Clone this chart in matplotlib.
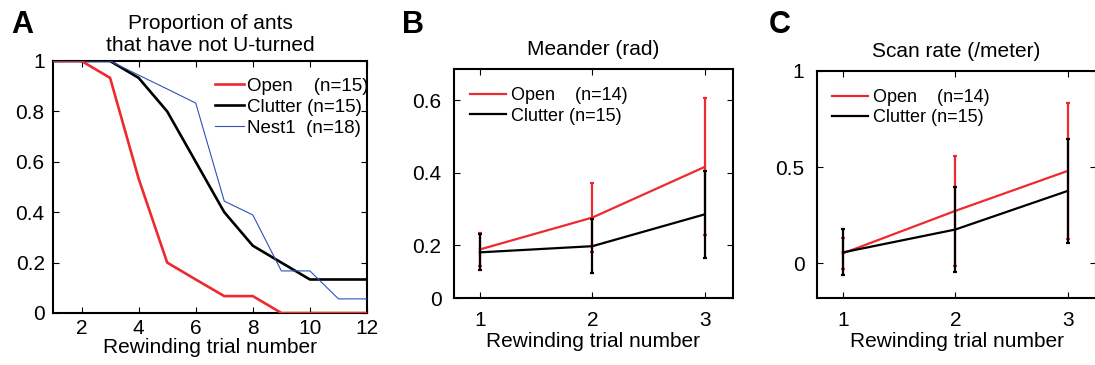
import numpy as np
import matplotlib
matplotlib.use("Agg")
import matplotlib.pyplot as plt
from matplotlib.lines import Line2D

plt.rcParams.update({
    "font.family": ["Liberation Sans", "DejaVu Sans"],
    "font.size": 15,
    "axes.linewidth": 1.5,
    "xtick.direction": "in",
    "ytick.direction": "in",
    "xtick.top": True,
    "ytick.right": True,
    "xtick.major.size": 4,
    "ytick.major.size": 4,
    "xtick.labelsize": 15,
    "ytick.labelsize": 15,
})

RED = "#ee2a2e"
BLUE = "#2f52b8"
BLACK = "#000000"

# Panel A: proportion of ants that have not U-turned
trials = np.arange(1, 13)
open_prop = [1.0, 1.0, 0.933, 0.533, 0.2, 0.133, 0.067, 0.067, 0.0, 0.0, 0.0, 0.0]
clutter_prop = [1.0, 1.0, 1.0, 0.933, 0.8, 0.6, 0.4, 0.267, 0.2, 0.133, 0.133, 0.133]
nest1_prop = [1.0, 1.0, 1.0, 0.944, 0.889, 0.833, 0.444, 0.389, 0.167, 0.167, 0.056, 0.056]

# Panels B and C
trials_bc = [1, 2, 3]
meander_open = [0.188, 0.276, 0.416]
meander_open_err = [0.046, 0.096, 0.189]
meander_clutter = [0.180, 0.197, 0.285]
meander_clutter_err = [0.050, 0.075, 0.120]

scan_open = [0.052, 0.273, 0.481]
scan_open_err = [0.080, 0.285, 0.355]
scan_clutter = [0.057, 0.176, 0.377]
scan_clutter_err = [0.120, 0.220, 0.270]

W, H = 1095, 365
fig = plt.figure(figsize=(W / 100, H / 100), dpi=100)


def box(l, r, t, b):
    return [l / W, 1 - b / H, (r - l) / W, (b - t) / H]


# ---- Panel A ----
axA = fig.add_axes(box(53, 367, 61, 313))
axA.plot(trials, open_prop, color=RED, lw=1.9, zorder=3)
axA.plot(trials, clutter_prop, color=BLACK, lw=1.9, zorder=2)
axA.plot(trials, nest1_prop, color=BLUE, lw=0.8, zorder=4)
axA.set_xlim(1, 12)
axA.set_ylim(0, 1)
axA.set_xticks([2, 4, 6, 8, 10, 12])
axA.set_yticks([0, 0.2, 0.4, 0.6, 0.8, 1])
axA.set_yticklabels(["0", "0.2", "0.4", "0.6", "0.8", "1"])
axA.tick_params(axis="y", pad=6)
axA.tick_params(axis="x", pad=4)
axA.set_xlabel("Rewinding trial number", labelpad=0)
axA.set_title("Proportion of ants\nthat have not U-turned", fontsize=15,
              linespacing=1.25, pad=7)
handlesA = [Line2D([], [], color=RED, lw=1.9),
            Line2D([], [], color=BLACK, lw=1.9),
            Line2D([], [], color=BLUE, lw=0.8)]
axA.legend(handlesA, ["Open    (n=15)", "Clutter (n=15)", "Nest1  (n=18)"],
           loc="upper left", bbox_to_anchor=(0.516, 0.935), frameon=False,
           fontsize=13.5, handlelength=1.55, handletextpad=0.15,
           labelspacing=0.22, borderpad=0, borderaxespad=0)
fig.text(22 / W, 1 - 25 / H, "A", fontsize=22, fontweight="bold",
         ha="center", va="center")


def panel_bc(ax, yo, eo, yc, ec, title, legend_x):
    ax.errorbar(trials_bc, yo, yerr=eo, color=RED, lw=1.6, elinewidth=1.6,
                capsize=1.5, capthick=1.6, zorder=2)
    ax.errorbar(trials_bc, yc, yerr=ec, color=BLACK, lw=1.6, elinewidth=1.6,
                capsize=1.5, capthick=1.6, zorder=3)
    ax.set_xlim(0.77, 3.25)
    ax.set_xticks(trials_bc)
    ax.tick_params(axis="x", pad=9)
    ax.tick_params(axis="y", pad=9)
    ax.set_xlabel("Rewinding trial number", labelpad=2)
    ax.set_title(title, fontsize=15, pad=10)
    handles = [Line2D([], [], color=RED, lw=1.6),
               Line2D([], [], color=BLACK, lw=1.6)]
    ax.legend(handles, ["Open    (n=14)", "Clutter (n=15)"],
              loc="upper left", bbox_to_anchor=(legend_x, 0.92), frameon=False,
              fontsize=13, handlelength=2.0, handletextpad=0.25,
              labelspacing=0.18, borderpad=0, borderaxespad=0)


# ---- Panel B ----
axB = fig.add_axes(box(454, 733, 69, 298))
panel_bc(axB, meander_open, meander_open_err, meander_clutter,
         meander_clutter_err, "Meander (rad)", 0.057)
axB.set_ylim(0.054, 0.686)
axB.set_yticks([0.054, 0.2, 0.4, 0.6])
axB.set_yticklabels(["0", "0.2", "0.4", "0.6"])
fig.text(413 / W, 1 - 25 / H, "B", fontsize=22, fontweight="bold",
         ha="center", va="center")

# ---- Panel C ----
axC = fig.add_axes(box(817, 1096, 71, 298))
panel_bc(axC, scan_open, scan_open_err, scan_clutter,
         scan_clutter_err, "Scan rate (/meter)", 0.054)
axC.set_ylim(-0.18, 1)
axC.set_yticks([0, 0.5, 1])
axC.set_yticklabels(["0", "0.5", "1"])
fig.text(780 / W, 1 - 25 / H, "C", fontsize=22, fontweight="bold",
         ha="center", va="center")

fig.savefig("out.png", dpi=100)
